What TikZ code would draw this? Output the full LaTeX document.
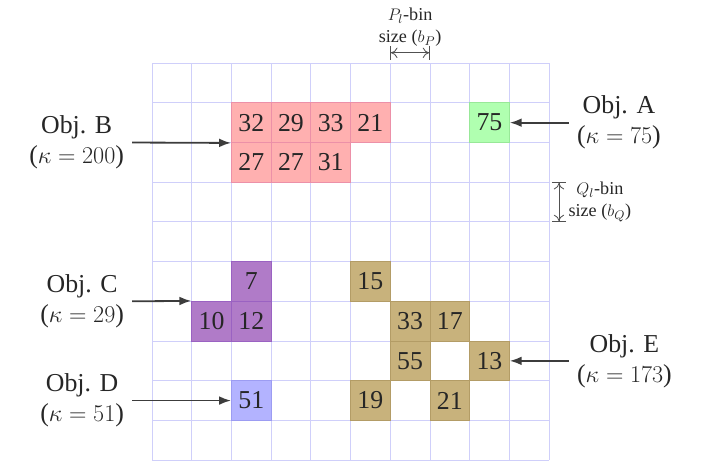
\documentclass[tikz,border=0pt]{standalone}
\usepackage[no-math]{fontspec}
\setmainfont{Liberation Serif}
\usetikzlibrary{arrows.meta,positioning,calc}
\definecolor{gridblue}{HTML}{CFCFFA}
\definecolor{objB}{HTML}{FFB0B0}
\definecolor{objBdk}{HTML}{EC90A8}
\definecolor{objA}{HTML}{B0FFB0}
\definecolor{objAdk}{HTML}{98E898}
\definecolor{objC}{HTML}{B07BC8}
\definecolor{objCdk}{HTML}{9A62C2}
\definecolor{objD}{HTML}{B3B3FF}
\definecolor{objDdk}{HTML}{9C9CF2}
\definecolor{objE}{HTML}{C8B27C}
\definecolor{objEdk}{HTML}{B39C66}
\definecolor{blkInk}{HTML}{262626}
\tikzset{
  cell/.style   = {minimum size=1cm, inner sep=0pt, line width=0.6pt,
                   text=blkInk, font=\fontsize{18.5}{22}\selectfont},
  cellB/.style  = {cell, fill=objB, draw=objBdk},
  cellA/.style  = {cell, fill=objA, draw=objAdk},
  cellC/.style  = {cell, fill=objC, draw=objCdk},
  cellD/.style  = {cell, fill=objD, draw=objDdk},
  cellE/.style  = {cell, fill=objE, draw=objEdk},
  objlab/.style = {align=center, inner sep=0.2cm, text=blkInk,
                   font=\fontsize{18.5}{21.5}\selectfont},
  ptr/.style    = {-{Latex[length=3mm,width=2.2mm]}, line width=1.3pt, draw=blkInk!90},
  dimarr/.style = {{Bar[width=3.6mm]To[length=1.6mm,width=2.6mm]}-{To[length=1.6mm,width=2.6mm]Bar[width=3.6mm]},
                   line width=0.6pt, draw=blkInk!80},
  dimlab/.style = {text=blkInk, inner sep=1pt, align=center,
                   font=\fontsize{13}{15.5}\selectfont},
}

\begin{document}
\begin{tikzpicture}[x=1cm, y=1cm]
  \useasboundingbox (-3.83,-0.1) rectangle (14.13,11.59);
  \draw[gridblue, line width=0.6pt] (0,0) grid (10,10);
  % objects, cells named by column and row
  \foreach \c/\r/\v in {2/8/32, 3/8/29, 4/8/33, 5/8/21, 2/7/27, 3/7/27, 4/7/31}
    \node[cellB] (b\c\r) at (\c+0.5,\r+0.5) {\v};
  \node[cellA] (a88) at (8.5,8.5) {75};
  \foreach \c/\r/\v in {2/4/7, 1/3/10, 2/3/12}
    \node[cellC] (c\c\r) at (\c+0.5,\r+0.5) {\v};
  \node[cellD] (d21) at (2.5,1.5) {51};
  \foreach \c/\r/\v in {5/4/15, 6/3/33, 7/3/17, 6/2/55, 8/2/13, 5/1/19, 7/1/21}
    \node[cellE] (e\c\r) at (\c+0.5,\r+0.5) {\v};

  % object labels
  \node[objlab, anchor=east] (labB) at (-0.5,8)   {Obj. B\\($\kappa = 200$)};
  \node[objlab, anchor=east] (labC) at (-0.5,4)   {Obj. C\\($\kappa = 29$)};
  \node[objlab, anchor=east] (labD) at (-0.5,1.5) {Obj. D\\($\kappa = 51$)};
  \node[objlab, anchor=west] (labA) at (10.5,8.5) {Obj. A\\($\kappa = 75$)};
  \node[objlab, anchor=west] (labE) at (10.5,2.5) {Obj. E\\($\kappa = 173$)};
  \draw[ptr] (labB.east) -- (b28.south west);
  \draw[ptr] (labC.east) -- (c13.north west);
  \draw[ptr] (labD.east) -- (d21.west);
  \draw[ptr] (labA.west) -- (a88.east);
  \draw[ptr] (labE.west) -- (e82.east);

  % bin sizes
  \coordinate (p0) at (6,10.26);
  \coordinate (p1) at (7,10.26);
  \coordinate (q0) at (10.25,7);
  \coordinate (q1) at (10.25,6);
  \draw[dimarr] (p0) -- (p1);
  \draw[dimarr] (q0) -- (q1);
  \node[dimlab, above=0.12cm of $(p0)!0.5!(p1)$] (plab) {$P_l$-bin\\size ($b_P$)};
  \node[dimlab, anchor=west] (qlab) at (10.45,6.5) {$Q_l$-bin\\size ($b_Q$)};
\end{tikzpicture}
\end{document}
